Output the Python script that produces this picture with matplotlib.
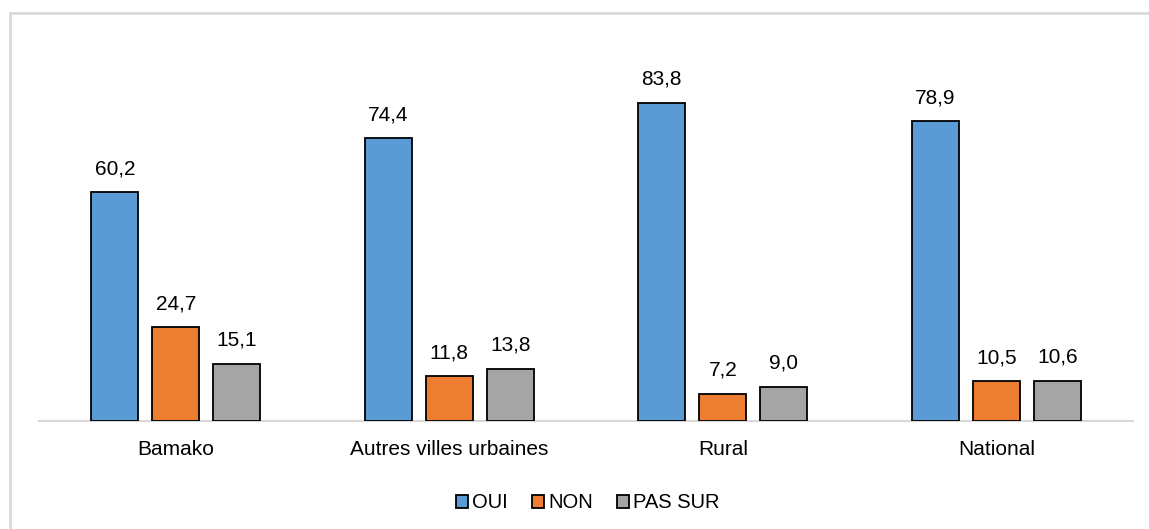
import matplotlib.pyplot as plt
import numpy as np
from matplotlib.patches import Rectangle

plt.rcParams['font.family'] = ['Liberation Sans', 'DejaVu Sans']

categories = ['Bamako', 'Autres villes urbaines', 'Rural', 'National']
series = ['OUI', 'NON', 'PAS SUR']
oui = [60.2, 74.4, 83.8, 78.9]
non = [24.7, 11.8, 7.2, 10.5]
pas_sur = [15.1, 13.8, 9.0, 10.6]
colors = ['#5B9BD5', '#ED7D31', '#A5A5A5']

W, H = 1149, 529
fig = plt.figure(figsize=(W / 100, H / 100), dpi=100)

# cadre gris clair (coupé à droite et en bas)
fig.patches.append(Rectangle((10 / W, -0.1), 1.2, 1.1 - 13 / H, transform=fig.transFigure,
                             fill=False, edgecolor='#D9D9D9', linewidth=2))

ax = fig.add_axes([39 / W, (H - 421) / H, (1133 - 39) / W, (421 - 79) / H])

x = np.arange(len(categories))
width = 0.172
step = 0.223
for i, (vals, name) in enumerate(zip([oui, non, pas_sur], series)):
    bars = ax.bar(x + (i - 1) * step, vals, width, color=colors[i], edgecolor='black',
                  linewidth=1.3, label=name, zorder=3)
    for b, v in zip(bars, vals):
        ax.annotate(f'{v:.1f}'.replace('.', ','), (b.get_x() + b.get_width() / 2, v),
                    xytext=(0, 10), textcoords='offset points', ha='center', va='bottom',
                    fontsize=15)

ax.set_xlim(-0.5, len(categories) - 0.5)
ax.set_ylim(0, 90)
ax.set_yticks([])
ax.set_xticks(x)
ax.set_xticklabels(categories, fontsize=15)
ax.tick_params(axis='x', length=0, pad=14)
for s in ['top', 'right', 'left']:
    ax.spines[s].set_visible(False)
ax.spines['bottom'].set_color('#D9D9D9')
ax.spines['bottom'].set_linewidth(1.5)

fig.legend(loc='center', bbox_to_anchor=(588 / W, (H - 503) / H), ncol=3, frameon=False,
           fontsize=14.5, handlelength=0.6, handleheight=0.6, handletextpad=0.2,
           columnspacing=1.2)

fig.savefig('out.png', dpi=100)
